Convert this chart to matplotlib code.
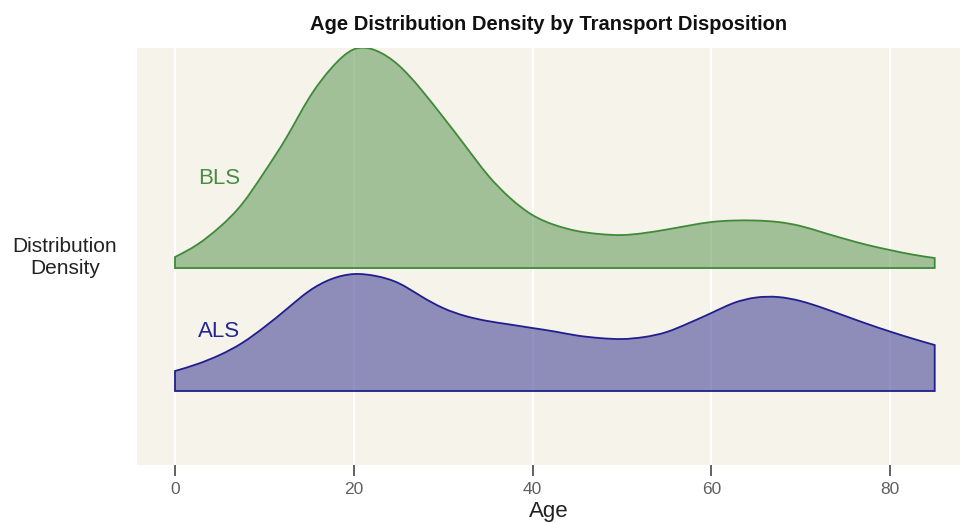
import matplotlib
matplotlib.use("Agg")
import matplotlib.pyplot as plt
from matplotlib.path import Path
from matplotlib.patches import PathPatch
import numpy as np

plt.rcParams['font.family'] = ['Liberation Sans', 'DejaVu Sans']

# Ages at which the density was read
ages = [0, 2.5, 5, 7.5, 10, 12.5, 15, 17.5, 20, 22.5, 25, 27.5, 30, 32.5, 35,
        37.5, 40, 42.5, 45, 47.5, 50, 52.5, 55, 57.5, 60, 62.5, 65, 67.5, 70,
        72.5, 75, 77.5, 80, 82.5, 85]

bls_density = [0.00176, 0.00376, 0.00656, 0.01024, 0.01536, 0.02096, 0.02720,
               0.03200, 0.03500, 0.03480, 0.03248, 0.02864, 0.02416, 0.01952,
               0.01488, 0.01120, 0.00848, 0.00688, 0.00592, 0.00544, 0.00528,
               0.00560, 0.00616, 0.00680, 0.00736, 0.00760, 0.00760, 0.00736,
               0.00672, 0.00568, 0.00464, 0.00368, 0.00288, 0.00216, 0.00160]

als_density = [0.00320, 0.00432, 0.00576, 0.00768, 0.01024, 0.01312, 0.01600,
               0.01792, 0.01872, 0.01840, 0.01728, 0.01520, 0.01328, 0.01200,
               0.01120, 0.01064, 0.01008, 0.00952, 0.00888, 0.00848, 0.00832,
               0.00864, 0.00944, 0.01088, 0.01248, 0.01408, 0.01496, 0.01504,
               0.01440, 0.01328, 0.01200, 0.01072, 0.00952, 0.00840, 0.00736]

groups = ["ALS", "BLS"]
x_ticks = [0, 20, 40, 60, 80]

scale = 50.8  # density -> ridge height in row units


def spline_slopes(x, y):
    """Slopes of the natural cubic spline through the read points."""
    n = len(x)
    h = np.diff(x)
    A = np.zeros((n, n))
    r = np.zeros(n)
    A[0, 0], A[0, 1] = 2 / h[0], 1 / h[0]
    r[0] = 3 * (y[1] - y[0]) / h[0] ** 2
    A[-1, -2], A[-1, -1] = 1 / h[-1], 2 / h[-1]
    r[-1] = 3 * (y[-1] - y[-2]) / h[-1] ** 2
    for i in range(1, n - 1):
        A[i, i - 1] = 1 / h[i - 1]
        A[i, i] = 2 / h[i - 1] + 2 / h[i]
        A[i, i + 1] = 1 / h[i]
        r[i] = 3 * ((y[i] - y[i - 1]) / h[i - 1] ** 2 + (y[i + 1] - y[i]) / h[i] ** 2)
    return np.linalg.solve(A, r)


def ridge_path(x, y, base):
    """Closed smooth path through the read points (cubic Bezier segments),
    then down to the baseline."""
    m = spline_slopes(x, y)
    verts = [(x[0], base), (x[0], y[0])]
    codes = [Path.MOVETO, Path.LINETO]
    for i in range(len(x) - 1):
        dx = x[i + 1] - x[i]
        c1 = (x[i] + dx / 3, y[i] + m[i] * dx / 3)
        c2 = (x[i + 1] - dx / 3, y[i + 1] - m[i + 1] * dx / 3)
        verts += [c1, c2, (x[i + 1], y[i + 1])]
        codes += [Path.CURVE4] * 3
    verts += [(x[-1], base), (x[0], base), (x[0], base)]
    codes += [Path.LINETO, Path.LINETO, Path.CLOSEPOLY]
    return Path(verts, codes)


fig = plt.figure(figsize=(9.6, 5.23), dpi=100)
ax = fig.add_axes([137/960, 1 - 465/523, 1 - 137/960, (465 - 48)/523])
ax.set_facecolor('#f6f3eb')

styles = {
    "BLS": dict(fill='#4f8f45', edge='#3f8a3a', text='#4a8c42', offset=1.0,
                dens=bls_density, label_y=1.73),
    "ALS": dict(fill='#272686', edge='#1f1f8f', text='#25258f', offset=0.0,
                dens=als_density, label_y=0.48),
}

a = np.array(ages, dtype=float)
for g in ["BLS", "ALS"]:
    s = styles[g]
    d = np.array(s["dens"]) * scale + s["offset"]
    p = ridge_path(a, d, s["offset"])
    ax.add_patch(PathPatch(p, facecolor=s["fill"], alpha=0.5, lw=0, zorder=2))
    ax.add_patch(PathPatch(p, facecolor='none', edgecolor=s["edge"], lw=1.3,
                           zorder=3, joinstyle='miter'))
    ax.text(2.6, s["label_y"], g, color=s["text"], fontsize=16,
            ha='left', va='center', zorder=4)

ax.set_xlim(-4.25, 87.83)
ax.set_ylim(-0.6016, 2.789)
ax.set_xticks(x_ticks)
ax.set_xticklabels([str(t) for t in x_ticks])
ax.set_yticks([])
ax.grid(axis='x', color='white', lw=1.5, zorder=1)
ax.set_axisbelow(True)
for sp in ax.spines.values():
    sp.set_visible(False)
ax.tick_params(axis='x', length=8, width=1.3, color='#555555',
               labelcolor='#606060', labelsize=12.5, pad=4)

ax.set_xlabel("Age", fontsize=16, color='#222222', labelpad=3)
fig.text(65/960, 1 - 257/523, "Distribution\nDensity", fontsize=15,
         color='#222222', ha='center', va='center', linespacing=1.2)
ax.set_title("Age Distribution Density by Transport Disposition",
             fontsize=14.5, fontweight='bold', color='#111111', pad=13)

fig.savefig("out.png", dpi=100)
